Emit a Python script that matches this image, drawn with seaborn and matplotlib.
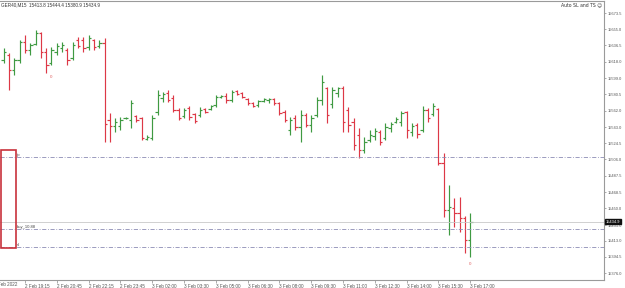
import matplotlib
matplotlib.use("Agg")
import matplotlib.pyplot as plt
from matplotlib.patches import Rectangle
import seaborn as sns
import numpy as np

# ---------------- data ----------------
opens = [15619.8, 15625.5, 15608.3, 15619.8, 15640.4, 15631.2, 15638.1, 15650.6, 15628.9, 15616.3,
         15628.9, 15633.5, 15631.2, 15622.0, 15642.6, 15642.6, 15634.6, 15642.6, 15635.8, 15639.2,
         15551.1, 15544.3, 15544.3, 15553.4, 15551.1, 15555.7, 15553.4, 15529.4, 15530.7, 15560.3,
         15576.3, 15582.0, 15576.3, 15562.6, 15555.7, 15564.8, 15558.0, 15556.8, 15563.7, 15563.7,
         15568.3, 15577.4, 15578.6, 15574.0, 15584.3, 15582.0, 15575.1, 15570.6, 15568.3, 15572.9,
         15574.0, 15575.1, 15570.6, 15560.3, 15539.7, 15553.4, 15543.1, 15556.8, 15545.4, 15556.8,
         15574.0, 15587.7, 15569.4, 15582.0, 15587.7, 15562.6, 15548.8, 15534.0, 15516.8, 15528.2,
         15532.8, 15537.4, 15530.7, 15542.0, 15548.8, 15548.8, 15560.3, 15537.4, 15545.4, 15539.7,
         15562.6, 15558.0, 15563.7, 15501.9, 15448.2, 15450.4, 15444.7, 15439.0, 15413.8]
highs = [15633.5, 15627.8, 15622.0, 15642.6, 15648.4, 15639.2, 15654.1, 15651.8, 15633.5, 15634.6,
         15639.2, 15640.4, 15633.5, 15640.4, 15646.1, 15646.1, 15648.4, 15643.5, 15642.6, 15645.0,
         15559.1, 15553.4, 15554.6, 15554.6, 15574.0, 15556.8, 15554.6, 15534.0, 15556.8, 15585.4,
         15583.2, 15585.4, 15579.7, 15564.8, 15564.8, 15567.1, 15559.1, 15566.0, 15564.8, 15568.3,
         15579.7, 15579.7, 15582.0, 15585.4, 15585.4, 15583.2, 15576.3, 15571.7, 15574.0, 15576.3,
         15576.3, 15576.3, 15571.7, 15562.6, 15554.6, 15556.8, 15562.6, 15559.1, 15556.8, 15577.4,
         15602.6, 15588.9, 15588.9, 15588.9, 15590.0, 15566.0, 15553.4, 15542.0, 15531.7, 15539.7,
         15542.0, 15539.7, 15547.7, 15548.8, 15554.6, 15561.4, 15561.4, 15547.7, 15547.7, 15567.1,
         15564.8, 15570.6, 15564.8, 15513.4, 15476.8, 15461.9, 15463.0, 15441.3, 15444.4]
lows = [15616.3, 15585.4, 15602.6, 15616.3, 15627.8, 15625.5, 15636.9, 15622.0, 15604.9, 15614.0,
        15625.5, 15628.9, 15614.0, 15619.8, 15633.5, 15628.9, 15631.2, 15631.2, 15633.5, 15525.9,
        15525.9, 15537.4, 15539.7, 15552.3, 15542.0, 15548.8, 15528.2, 15528.2, 15528.2, 15556.8,
        15571.7, 15571.7, 15560.3, 15551.1, 15553.4, 15551.1, 15547.7, 15554.6, 15559.1, 15562.6,
        15566.0, 15576.3, 15570.6, 15571.7, 15579.7, 15576.3, 15568.3, 15566.0, 15566.0, 15571.7,
        15570.6, 15568.3, 15556.8, 15548.8, 15534.0, 15539.7, 15525.9, 15543.1, 15537.4, 15554.6,
        15568.3, 15547.7, 15564.8, 15577.4, 15537.4, 15537.4, 15516.8, 15507.6, 15513.4, 15525.9,
        15528.2, 15522.5, 15528.2, 15537.4, 15547.7, 15544.3, 15530.7, 15532.8, 15530.7, 15537.4,
        15548.8, 15555.7, 15499.6, 15440.2, 15419.6, 15428.7, 15423.0, 15399.0, 15394.4]
closes = [15628.9, 15608.3, 15619.8, 15640.4, 15631.2, 15636.9, 15650.6, 15628.9, 15614.0, 15631.2,
          15635.8, 15636.9, 15619.8, 15636.9, 15635.8, 15633.5, 15644.9, 15634.6, 15639.2, 15546.5,
          15544.3, 15548.8, 15551.1, 15553.4, 15570.6, 15551.1, 15530.7, 15531.7, 15553.4, 15579.7,
          15580.9, 15574.0, 15562.6, 15553.4, 15562.6, 15554.6, 15550.0, 15562.6, 15560.3, 15567.1,
          15577.4, 15578.6, 15574.0, 15583.2, 15580.9, 15577.4, 15570.6, 15567.1, 15572.9, 15575.1,
          15575.1, 15570.6, 15559.1, 15551.1, 15551.1, 15543.1, 15556.8, 15545.4, 15553.4, 15574.0,
          15594.6, 15556.8, 15585.4, 15587.7, 15548.8, 15545.4, 15522.5, 15516.8, 15525.9, 15534.0,
          15538.5, 15525.9, 15543.1, 15546.5, 15552.3, 15559.1, 15539.7, 15544.3, 15535.1, 15562.6,
          15553.4, 15567.1, 15501.9, 15448.2, 15451.6, 15444.7, 15439.0, 15413.8, 15434.9]

time_ticks = [4, 10, 16, 22, 28, 34, 40, 46, 52, 58, 64, 70, 76, 82, 88]
time_labels = ["2 Feb 19:15", "2 Feb 20:45", "2 Feb 22:15", "2 Feb 23:45", "3 Feb 02:00",
               "3 Feb 03:30", "3 Feb 05:00", "3 Feb 06:30", "3 Feb 08:00", "3 Feb 09:30",
               "3 Feb 11:00", "3 Feb 12:30", "3 Feb 14:00", "3 Feb 15:30", "3 Feb 17:00"]
price_ticks = [15673.5, 15655.0, 15636.5, 15618.0, 15599.0, 15580.5, 15562.0, 15543.0, 15524.5,
               15506.0, 15487.5, 15468.5, 15450.0, 15431.0, 15413.0, 15394.5, 15376.0]
level_names = ["tp", "buy_10.88", "sl"]
level_values = [15508.8, 15426.4, 15405.8]
current_price = 15434.9
marker_bars = [9, 88]
marker_prices = [15600.3, 15386.4]
title_text = "GER40,M15  15413.8 15444.4 15380.9 15434.9"
ea_text = "Auto SL and TS \u263a"

# ---------------- style ----------------
sns.set_theme(style="white")
plt.rcParams['font.family'] = ['Liberation Sans', 'DejaVu Sans']

W, H = 625, 288
fig = plt.figure(figsize=(W / 100, H / 100), dpi=100)
fig.patch.set_facecolor("white")

ax_left, ax_right, ax_top, ax_bottom = 0, 604, 1, 280
ax = fig.add_axes([ax_left / W, (H - ax_bottom) / H, (ax_right - ax_left) / W, (ax_bottom - ax_top) / H])
ax.set_facecolor("white")

GREEN = "#3f9a42"
RED = "#dd3846"

n = len(opens)
idx = np.arange(n)
o = np.array(opens); h = np.array(highs); l = np.array(lows); c = np.array(closes)
cols = [GREEN if c[i] >= o[i] else RED for i in range(n)]

ax.vlines(idx, l, h, colors=cols, lw=0.85)
ax.hlines(o, idx - 0.45, idx, colors=cols, lw=0.85)
ax.hlines(c, idx, idx + 0.45, colors=cols, lw=0.85)

# levels
for name, val in zip(level_names, level_values):
    ax.axhline(val, color="#8c8cb4", lw=0.6, ls=(0, (5, 2, 1, 2)))
    ax.text(2.5, val, name, fontsize=3, color="#444444", va="bottom", ha="left")
ax.axhline(current_price, color="#c9c9c9", lw=0.6)

for b, p in zip(marker_bars, marker_prices):
    ax.text(b, p, "0", fontsize=3.2, color="#e06060", ha="center", va="center")

# limits: pixel mapping
px_per_bar = 5.3
x0 = 3.8
ax.set_xlim((ax_left - x0) / px_per_bar, (ax_right - x0) / px_per_bar)
ax.set_ylim(15368.1, 15687.3)

# axes styling
ax.spines["left"].set_visible(False)
for s in ["top", "right", "bottom"]:
    ax.spines[s].set_color("#9a9a9a")
    ax.spines[s].set_linewidth(0.8)

ax.yaxis.tick_right()
ax.set_yticks(price_ticks)
ax.set_yticklabels([f"{v:.1f}" for v in price_ticks])
ax.tick_params(axis="y", right=True, left=False, length=1.5, width=0.5, color="#888888",
               labelsize=2.9, labelcolor="#555555", pad=1.2)

ax.set_xticks(time_ticks)
ax.set_xticklabels(time_labels)
ax.tick_params(axis="x", bottom=True, length=2, width=0.5, color="#888888",
               labelsize=3.3, labelcolor="#555555", pad=1.2)
for lab in ax.get_xticklabels():
    lab.set_ha("left")
ax.grid(False)

# current price label box on right axis
ax.annotate(f"{current_price:.1f}", xy=(1.0, current_price), xycoords=("axes fraction", "data"),
            xytext=(1.2, 0), textcoords="offset points", fontsize=2.9, color="white",
            va="center", ha="left",
            bbox=dict(boxstyle="square,pad=0.2", fc="#101010", ec="#101010"))

# first date label (clipped at left edge)
fig.text(-6 / W, 1 - 284 / H, "2 Feb 2022", fontsize=3.3, color="#555555", va="center", ha="left")

# header texts
fig.text(1 / W, 1 - 4.5 / H, title_text, fontsize=3.3, color="#333333", va="center", ha="left")
fig.text(602 / W, 1 - 4.5 / H, ea_text, fontsize=3.3, color="#333333", va="center", ha="right",
         family=['DejaVu Sans'])

# red rectangle panel at left
fig.patches.append(Rectangle((1 / W, (H - 248) / H), 15 / W, 98 / H, transform=fig.transFigure,
                             fill=False, ec="#c8323c", lw=1.2))

fig.savefig("out.png", dpi=100)
